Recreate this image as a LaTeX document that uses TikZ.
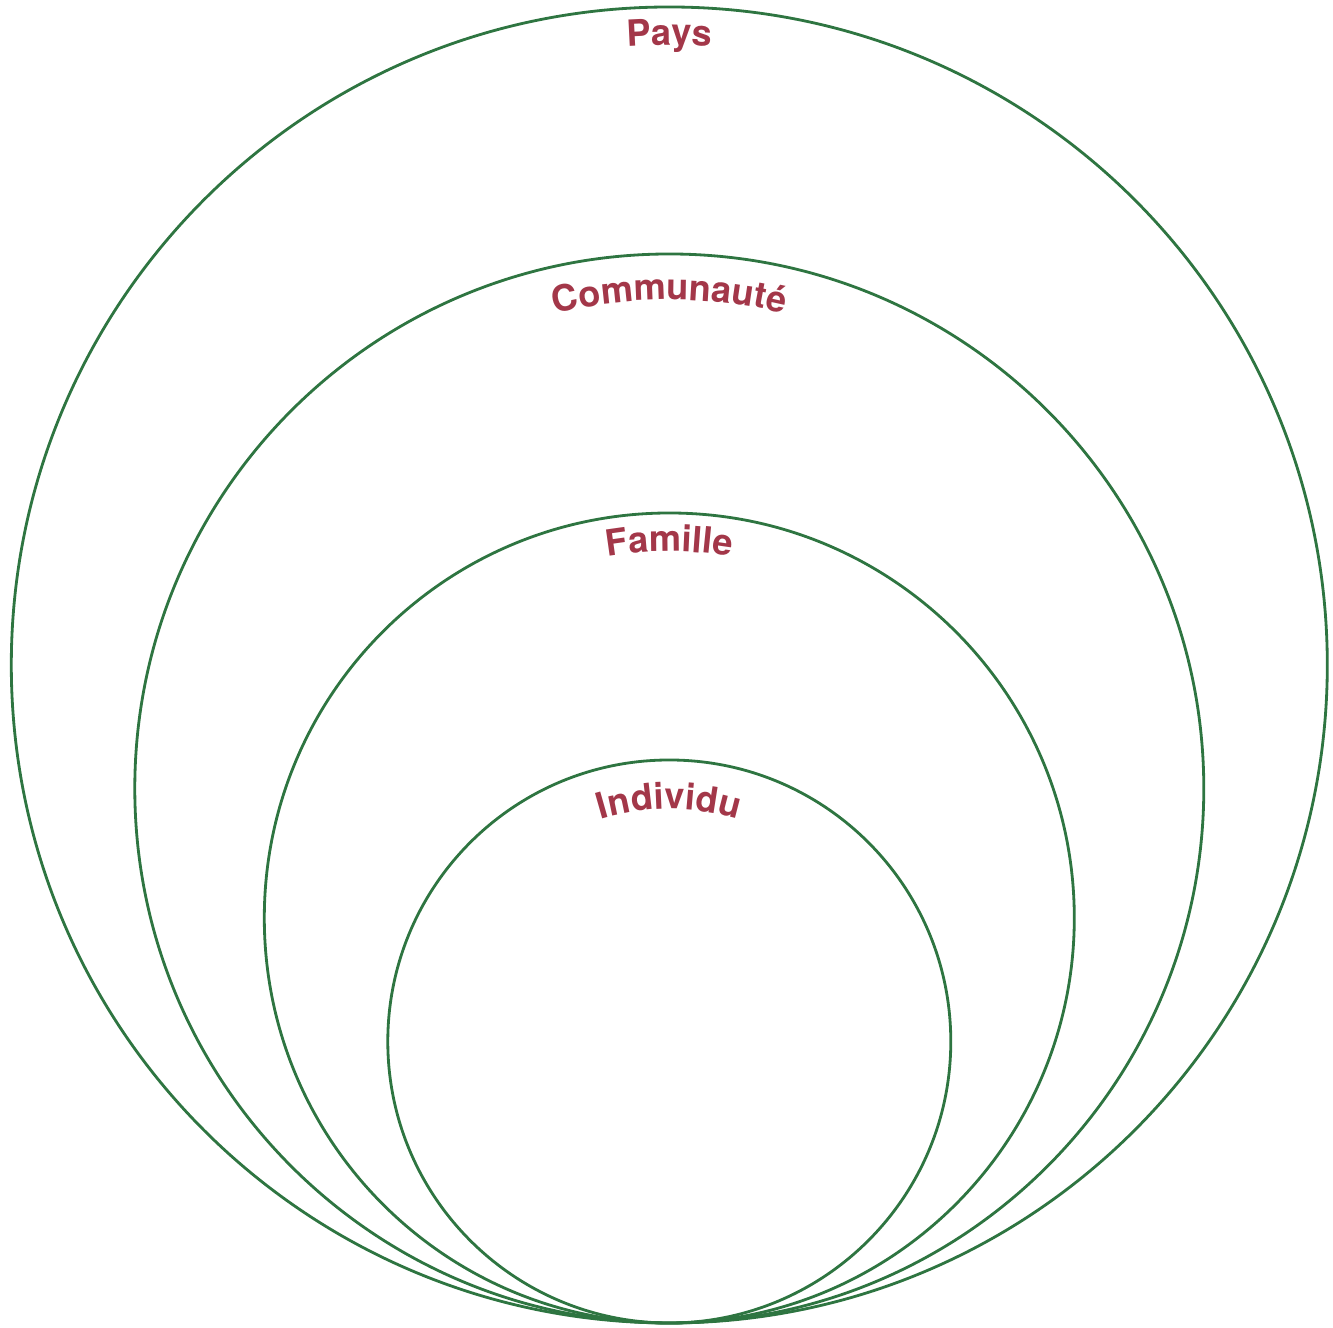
\documentclass[tikz,border=0pt]{standalone}
\usepackage{fontspec}
\setmainfont{TeX Gyre Heros}
\usetikzlibrary{decorations.text}
\definecolor{ringgreen}{RGB}{46,117,65}
\definecolor{labelred}{RGB}{163,55,73}
\newcommand{\ringfont}{\bfseries\fontsize{20.6}{24}\selectfont}

\begin{document}
\begin{tikzpicture}[
    ring/.style={draw=ringgreen,line width=1.6pt},
    ringlabel/.style={decorate,decoration={text along path,text align=center,text color=labelred,text/.expanded={|\noexpand\ringfont|#1}}}
  ]
  \useasboundingbox (0,0) rectangle (26.66,26.56);

  % the rings, from the outside in, all touching at the bottom
  \foreach \lbl/\cy/\r/\rb in {Pays/13.26/13.16/12.4,Communauté/10.79/10.69/9.77,Famille/8.2/8.1/7.33,Individu/5.73/5.63/4.65}{
    \draw[ring] (13.386,\cy) circle[radius=\r];
    % the label, bent along the top of the ring
    \path[ringlabel=\lbl] (13.386,\cy) ++(150:\rb) arc[start angle=150,end angle=30,radius=\rb];
  }
\end{tikzpicture}
\end{document}
